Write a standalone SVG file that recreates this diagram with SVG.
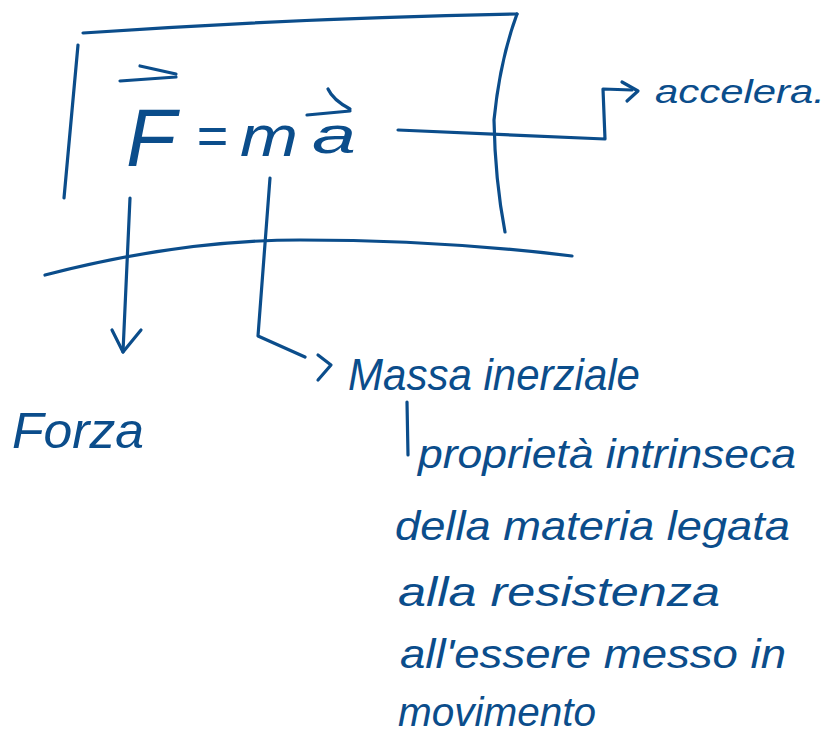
<svg xmlns="http://www.w3.org/2000/svg" width="828" height="736" viewBox="0 0 828 736">
<style>
.s{fill:none;stroke:#0b4d8b;stroke-width:3.2;stroke-linecap:round;stroke-linejoin:round}
.t{fill:#0b4d8b;font-family:"Liberation Sans",Arial,sans-serif;font-style:italic}
</style>
<rect width="828" height="736" fill="#ffffff"/>
<g id="box">
<path class="s" d="M83,33 Q300,18 517,14"/>
<path class="s" d="M78,45 L64,198"/>
<path class="s" d="M517,14 Q500,60 494,120 Q495,180 505,232"/>
<path class="s" d="M45,275 Q180,240 300,240 Q440,240 572,256"/>
</g>
<g id="formula">
<text class="t" x="126" y="166" font-size="82" font-weight="300">F</text>
<text class="t" x="196" y="154" font-size="54" font-style="normal">=</text>
<text class="t" x="240" y="156" font-size="58" textLength="58" lengthAdjust="spacingAndGlyphs">m</text>
<text class="t" x="312" y="153" font-size="52" textLength="44" lengthAdjust="spacingAndGlyphs">a</text>
<path class="s" d="M120,81 L176,77 M140,66 L176,74"/>
<path class="s" d="M307,115 L350,111 M328,89 Q333,100 350,109"/>
</g>
<g id="forza">
<text class="t" x="12" y="448" font-size="50" textLength="132" lengthAdjust="spacingAndGlyphs">Forza</text>
</g>
<g id="massa">
<text class="t" x="348" y="390" font-size="44" textLength="292" lengthAdjust="spacingAndGlyphs">Massa inerziale</text>
</g>
<g id="accelerazione">
<text class="t" x="655" y="103" font-size="34" textLength="170" lengthAdjust="spacingAndGlyphs">accelera.</text>
</g>
<g id="definizione">
<text class="t" x="418" y="468" font-size="40" textLength="378" lengthAdjust="spacingAndGlyphs">proprietà intrinseca</text>
<text class="t" x="395" y="540" font-size="40" textLength="395" lengthAdjust="spacingAndGlyphs">della materia legata</text>
<text class="t" x="398" y="606" font-size="40" textLength="322" lengthAdjust="spacingAndGlyphs">alla resistenza</text>
<text class="t" x="400" y="668" font-size="40" textLength="386" lengthAdjust="spacingAndGlyphs">all'essere messo in</text>
<text class="t" x="398" y="726" font-size="40" textLength="198" lengthAdjust="spacingAndGlyphs">movimento</text>
</g>
<g id="connectors">
<path class="s" d="M130,198 L123,352"/>
<path class="s" d="M112,330 L123,352 L141,330"/>
<path class="s" d="M270,178 L258,336 L305,357"/>
<path class="s" d="M318,355 L331,365 L318,380"/>
<path class="s" d="M398,130 L605,139 L603,89 L632,90"/>
<path class="s" d="M622,82 L638,91 L627,101"/>
<path class="s" d="M407,402 L408,455"/>
</g>
</svg>
